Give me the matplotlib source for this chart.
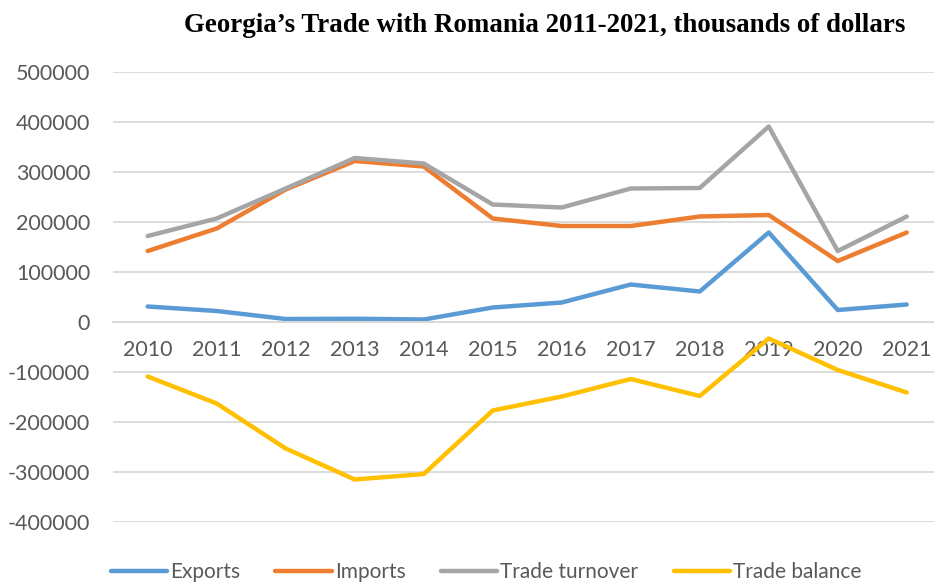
import matplotlib
matplotlib.use("Agg")
import matplotlib.pyplot as plt

years = ["2010", "2011", "2012", "2013", "2014", "2015", "2016", "2017", "2018", "2019", "2020", "2021"]
exports = [30000, 21000, 5000, 5500, 4000, 28000, 38000, 74000, 60000, 178000, 23000, 34000]
imports = [141000, 186000, 264000, 321000, 310000, 206000, 191000, 191000, 210000, 213000, 121000, 178000]
turnover = [171000, 206000, 266000, 327000, 316000, 234000, 228000, 266000, 267000, 390000, 141000, 210000]
balance = [-110000, -164000, -254000, -316000, -305000, -178000, -150000, -115000, -149000, -34000, -97000, -142000]
yticks = [-400000, -300000, -200000, -100000, 0, 100000, 200000, 300000, 400000, 500000]

series = [
    ("Exports", exports, "#5B9BD5"),
    ("Imports", imports, "#ED7D31"),
    ("Trade turnover", turnover, "#A5A5A5"),
    ("Trade balance", balance, "#FFC000"),
]

fig = plt.figure(figsize=(9.34, 5.84), dpi=100)
ax = fig.add_axes([113 / 934, 62.5 / 584, (934 - 113) / 934, (521.5 - 71.5) / 584])

x = list(range(len(years)))
for name, vals, col in series:
    ax.plot(x, vals, color=col, lw=3.2, label=name, solid_capstyle="round", solid_joinstyle="round")

ax.set_xlim(-0.503, 11.395)
ax.set_ylim(-400000, 500000)
ax.set_yticks(yticks)
ax.set_yticklabels([str(v) for v in yticks], fontsize=15.5, color="#595959", family="Lato")
ax.grid(axis="y", color="#D9D9D9", lw=1.3)
ax.set_axisbelow(True)
for s in ["top", "right", "left"]:
    ax.spines[s].set_visible(False)
ax.spines["bottom"].set_position(("data", 0))
ax.spines["bottom"].set_color("#D9D9D9")
ax.spines["bottom"].set_linewidth(1.3)
ax.set_xticks(x)
ax.set_xticklabels(years, fontsize=15.5, color="#595959", family="Lato")
ax.tick_params(axis="both", length=0)
ax.tick_params(axis="x", pad=13)
ax.tick_params(axis="y", pad=16.5)

fig.text(545 / 934, 1 - 26 / 584, "Georgia\u2019s Trade with Romania 2011-2021, thousands of dollars",
         ha="center", va="center", fontsize=19.4, fontweight="bold", family="Liberation Serif")

leg = fig.legend(loc="center", bbox_to_anchor=(486 / 934, 1 - 572 / 584), ncol=4, frameon=False,
                 prop={"family": "Lato", "size": 15}, handlelength=2.7, handletextpad=0.15,
                 columnspacing=1.7)
for t in leg.get_texts():
    t.set_color("#595959")

fig.savefig("out.png", dpi=100)
